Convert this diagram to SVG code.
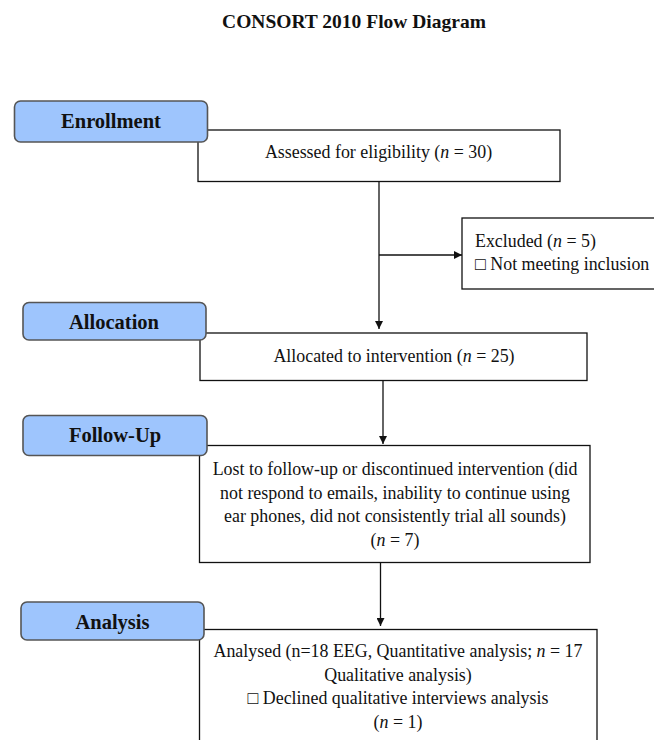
<svg xmlns="http://www.w3.org/2000/svg" width="654" height="740" viewBox="0 0 654 740">
<defs>
<style>
.t{font-family:"Liberation Serif","Times New Roman",serif;font-size:17.9px;fill:#111}
.lbl{font-family:"Liberation Serif","Times New Roman",serif;font-size:20.5px;font-weight:bold;fill:#111;text-anchor:middle}
.box{fill:#fff;stroke:#111;stroke-width:1.3}
.stage{fill:#9ec5fd;stroke:#555;stroke-width:1.6}
.c{stroke:#111;stroke-width:1.3;fill:none}
.mid{text-anchor:middle}
</style>
<marker id="ah" viewBox="0 0 10 10" refX="10" refY="5" markerWidth="8" markerHeight="8" markerUnits="userSpaceOnUse" orient="auto">
<path d="M0,0 L10,5 L0,10 Z" fill="#111"/>
</marker>
</defs>
<rect width="654" height="740" fill="#fff"/>
<text x="354" y="28" font-family="'Liberation Serif', 'Times New Roman', serif" font-size="19.5" font-weight="bold" fill="#111" text-anchor="middle">CONSORT 2010 Flow Diagram</text>

<g id="assessed">
<rect class="box" x="198" y="130" width="362" height="51.5"/>
<text class="t mid" x="378.5" y="158">Assessed for eligibility (<tspan font-style="italic">n</tspan> = 30)</text>
</g>
<g id="excluded">
<rect class="box" x="462" y="218" width="220" height="71"/>
<text class="t" x="475" y="247">Excluded (<tspan font-style="italic">n</tspan> = 5)</text>
<text class="t" x="475" y="270">□ Not meeting inclusion</text>
</g>
<g id="allocated">
<rect class="box" x="200" y="333" width="387" height="47.5"/>
<text class="t mid" x="394" y="362">Allocated to intervention (<tspan font-style="italic">n</tspan> = 25)</text>
</g>
<g id="lost">
<rect class="box" x="199.5" y="445.5" width="390.5" height="117"/>
<text class="t mid" x="395" y="475">Lost to follow-up or discontinued intervention (did</text>
<text class="t mid" x="395" y="498.5">not respond to emails, inability to continue using</text>
<text class="t mid" x="395" y="522">ear phones, did not consistently trial all sounds)</text>
<text class="t mid" x="395" y="546">(<tspan font-style="italic">n</tspan> = 7)</text>
</g>
<g id="analysed">
<rect class="box" x="199.5" y="629.5" width="397.5" height="130"/>
<text class="t mid" x="398" y="657">Analysed (n=18 EEG, Quantitative analysis; <tspan font-style="italic">n</tspan> = 17</text>
<text class="t mid" x="398" y="680.5">Qualitative analysis)</text>
<text class="t mid" x="398" y="704">□ Declined qualitative interviews analysis</text>
<text class="t mid" x="398" y="728">(<tspan font-style="italic">n</tspan> = 1)</text>
</g>

<g id="enrollment">
<rect class="stage" x="14.5" y="101" width="193" height="41" rx="6"/>
<text class="lbl" x="111" y="128">Enrollment</text>
</g>
<g id="allocation">
<rect class="stage" x="23" y="302.5" width="183" height="37.5" rx="6"/>
<text class="lbl" x="114" y="328.5">Allocation</text>
</g>
<g id="followup">
<rect class="stage" x="23" y="415.5" width="184" height="40" rx="6"/>
<text class="lbl" x="115" y="442">Follow-Up</text>
</g>
<g id="analysis">
<rect class="stage" x="21" y="602" width="183" height="38" rx="6"/>
<text class="lbl" x="112.5" y="628.5">Analysis</text>
</g>

<g id="connectors">
<line class="c" x1="379" y1="181.5" x2="379" y2="329" marker-end="url(#ah)"/>
<line class="c" x1="379" y1="255" x2="462" y2="255" marker-end="url(#ah)"/>
<line class="c" x1="383" y1="380.5" x2="383" y2="444" marker-end="url(#ah)"/>
<line class="c" x1="380.5" y1="562.5" x2="380.5" y2="626" marker-end="url(#ah)"/>
</g>
</svg>
